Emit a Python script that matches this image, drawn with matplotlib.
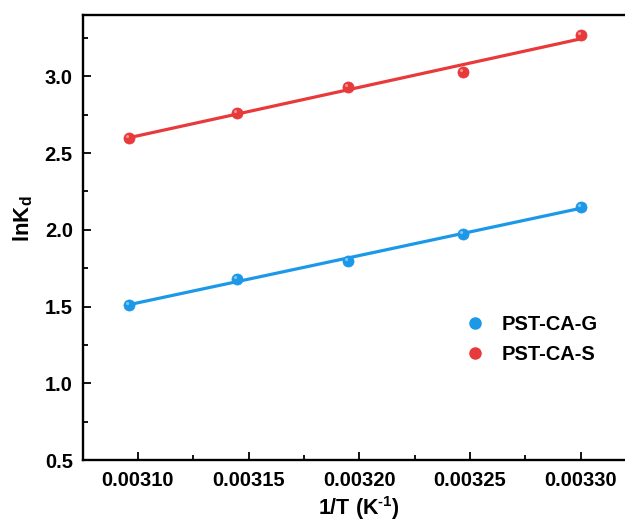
import numpy as np
import matplotlib.pyplot as plt
from matplotlib.path import Path

plt.rcParams['font.family'] = ['Liberation Sans', 'DejaVu Sans']
plt.rcParams['font.weight'] = 'bold'
plt.rcParams['mathtext.fontset'] = 'custom'
plt.rcParams['mathtext.rm'] = 'Liberation Sans:bold'

# 1/T values (K^-1) and lnKd for both adsorbents
inv_T = [0.003096, 0.003145, 0.003195, 0.003247, 0.003300]
lnKd_G = [1.51, 1.68, 1.80, 1.97, 2.15]
lnKd_S = [2.60, 2.76, 2.93, 3.03, 3.27]

labels = ['PST-CA-G', 'PST-CA-S']
colors = ['#1c98e8', '#e8393b']

# glossy spot for the sphere symbols: an off-centre circle, the lone moveto
# keeps the marker scale equal to the base circle
spot = Path.make_compound_path(
    Path.circle(center=(-0.35, 0.35), radius=0.28),
    Path([(1.0, 1.0)], [Path.MOVETO]))

fig = plt.figure(figsize=(6.25, 5.24), dpi=100)
# the right spine sits just outside the picture, as in the reference
ax = fig.add_axes([82.5 / 625, 1 - 460 / 524, (636 - 82.5) / 625, 445 / 524])

x = np.array(inv_T)
for ys, lab, c in zip([lnKd_G, lnKd_S], labels, colors):
    k, b = np.polyfit(x, ys, 1)
    xx = np.array([x[0], x[-1]])
    ax.plot(xx, k * xx + b, color=c, lw=2.3, zorder=2)
    ax.plot(x, ys, 'o', ms=8, color=c, mec=c, mew=0.5, zorder=3)
    ax.plot(x, ys, ls='none', marker=spot, ms=8, color='white', alpha=0.45,
            mew=0, zorder=4)
    ax.plot([], [], 'o', ms=8, color=c, mec=c, label=lab)

ax.set_xlim(0.003075, 0.003325)
ax.set_ylim(0.5, 3.4)
ax.set_xticks([0.00310, 0.00315, 0.00320, 0.00325, 0.00330])
ax.set_xticklabels(['0.00310', '0.00315', '0.00320', '0.00325', '0.00330'])
ax.set_yticks([0.5, 1.0, 1.5, 2.0, 2.5, 3.0])
ax.set_yticks(np.arange(0.75, 3.4, 0.5), minor=True)
ax.set_xticks(np.arange(0.003125, 0.00332, 0.00005), minor=True)

ax.tick_params(which='both', direction='in', width=1.3, labelsize=14.5)
ax.tick_params(axis='x', pad=8)
ax.tick_params(axis='y', pad=7)
ax.tick_params(which='major', length=6)
ax.tick_params(which='minor', length=3.5)
for s in ax.spines.values():
    s.set_linewidth(1.7)

ax.set_xlabel('1/T (K$^{\\text{-1}}$)', fontsize=15.5, fontweight='bold', labelpad=3)
ax.set_ylabel('lnK$_{\\mathrm{d}}$', fontsize=16, fontweight='bold')
ax.yaxis.set_label_coords(-0.085, 0.542)

ax.legend(loc='upper left', bbox_to_anchor=(0.691, 0.326), frameon=False,
          fontsize=14.5, handlelength=1.0, handletextpad=0.8, borderpad=0,
          borderaxespad=0, labelspacing=0.55, numpoints=1)

fig.savefig('out.png', dpi=100)
